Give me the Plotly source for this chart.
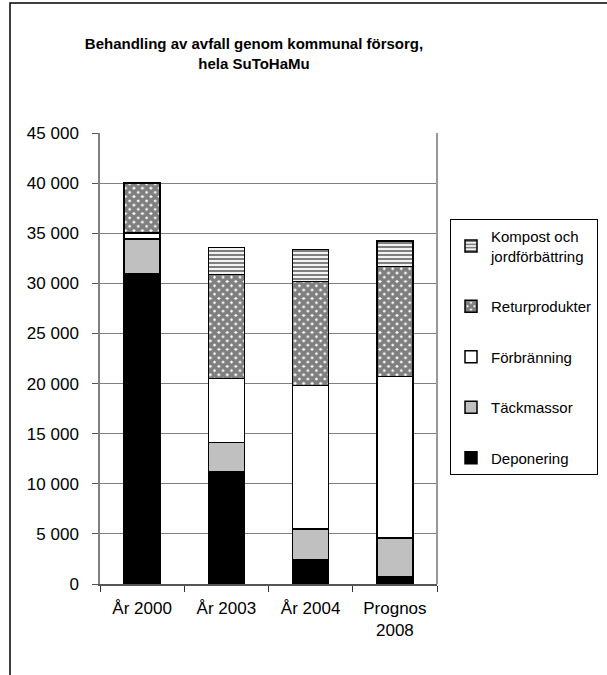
import plotly.graph_objects as go

categories = ["År 2000", "År 2003", "År 2004", "Prognos<br>2008"]
deponering = [31000, 11200, 2400, 700]
tackmassor = [3400, 2900, 3100, 3900]
forbranning = [600, 6400, 14300, 16100]
returprodukter = [5000, 10400, 10400, 11000]
kompost = [0, 2700, 3200, 2500]

series = [
    ("Deponering", deponering, "black", None),
    ("Täckmassor", tackmassor, "#c0c0c0", None),
    ("Förbränning", forbranning, "white", None),
    ("Returprodukter", returprodukter, "white", dict(shape="x", fgcolor="black", bgcolor="white", size=6, solidity=0.85)),
    ("Kompost och<br>jordförbättring", kompost, "white", dict(shape="-", fgcolor="black", bgcolor="white", size=4, solidity=0.55)),
]

fig = go.Figure()
n = len(series)
for i, (name, vals, color, pattern) in enumerate(series):
    marker = dict(color=color, line=dict(color="black", width=1.5))
    if pattern:
        marker["pattern"] = pattern
    fig.add_trace(go.Bar(x=categories, y=vals, name=name, marker=marker,
                         legendgroup=f"g{i}", legendrank=n - i))

L, R, T, B = 100, 437, 133, 584
W, H = 607, 675
fnt = "Liberation Sans, Arial, sans-serif"

fig.update_layout(
    width=W, height=H,
    margin=dict(l=L, r=W - R, t=T, b=H - B, pad=0),
    barmode="stack", bargap=0.57,
    paper_bgcolor="white", plot_bgcolor="white",
    separators=", ",
    font=dict(family=fnt, size=17, color="black"),
    title=dict(text="<b>Behandling av avfall genom kommunal försorg,<br>hela SuToHaMu</b>",
               x=(254 - L) / (R - L), xref="paper", xanchor="center",
               y=1 - 49 / H, yanchor="middle", font=dict(size=15)),
    legend=dict(xref="container", yref="container",
                x=450 / W, y=1 - 219 / H, xanchor="left", yanchor="top",
                traceorder="grouped", tracegroupgap=28,
                bordercolor="black", borderwidth=1, bgcolor="white",
                font=dict(size=15), itemwidth=30),
    showlegend=True,
)
fig.update_yaxes(range=[0, 45000], dtick=5000, tickformat=",d",
                 tickfont=dict(size=17),
                 showgrid=True, gridcolor="#808080", gridwidth=1,
                 showline=True, linecolor="#808080", linewidth=1.5,
                 ticks="outside", ticklen=6, tickcolor="#555",
                 ticklabelstandoff=10,
                 mirror=False, zeroline=False)
fig.update_xaxes(showline=True, linecolor="#555", linewidth=1.5,
                 ticks="outside", tickson="boundaries", ticklen=6, tickcolor="#333",
                 ticklabelstandoff=8)
# right border of plot area
fig.add_shape(type="line", xref="paper", yref="paper", x0=1, x1=1, y0=0, y1=1,
              line=dict(color="#999", width=2))
# outer chart border
fig.add_shape(type="rect", xref="paper", yref="paper",
              x0=(10 - L) / (R - L), x1=3, y0=-2, y1=(B - 3) / (B - T),
              line=dict(color="black", width=1.5), fillcolor="rgba(0,0,0,0)", layer="below")
fig.write_html("out.html", config={"displayModeBar": False},
               post_script="document.body.style.margin='0';document.body.style.overflow='hidden';")
